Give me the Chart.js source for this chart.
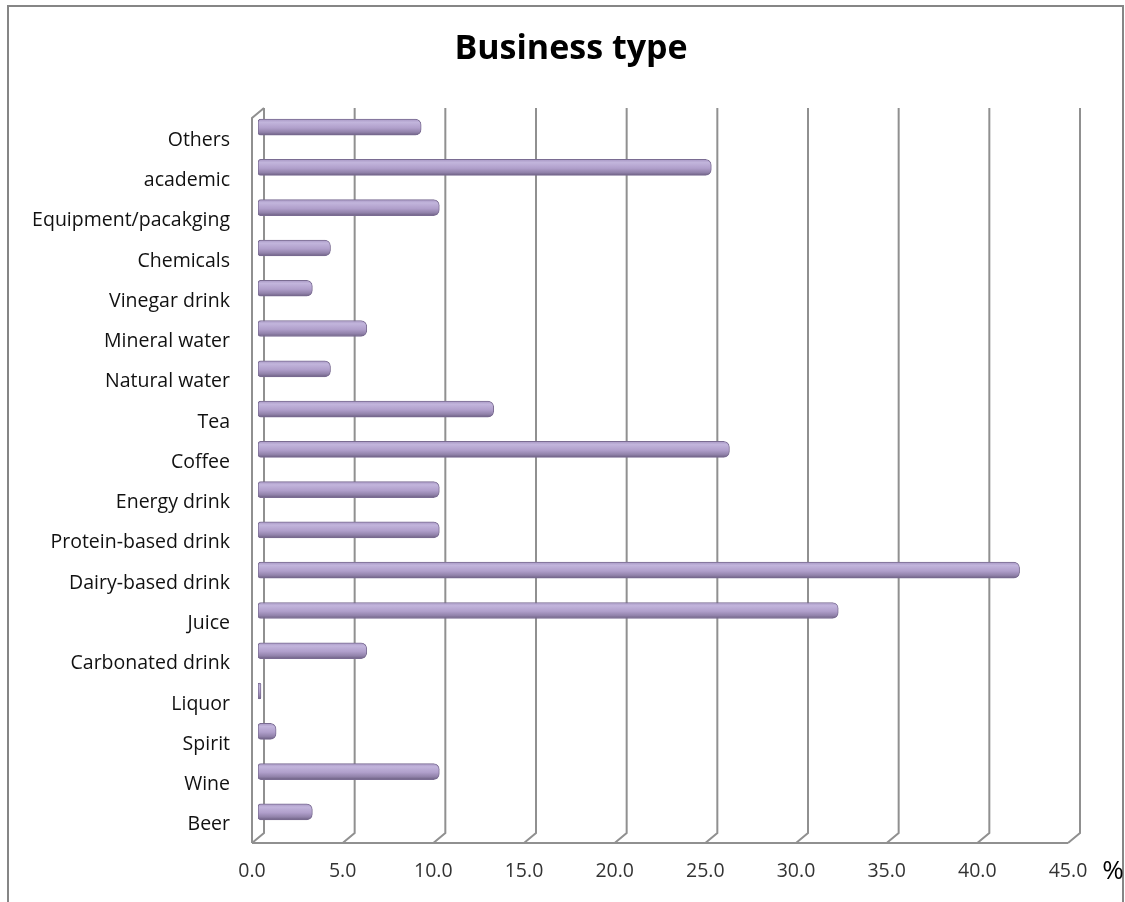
<!DOCTYPE html>
<html><head><meta charset="utf-8">
<script src="https://cdn.jsdelivr.net/npm/chart.js@4/dist/chart.umd.min.js"></script>
<style>html,body{margin:0;padding:0;background:#fff}#wrap{width:1125px;height:902px;position:relative}canvas{display:block}</style>
</head><body><div id="wrap"><canvas id="c" width="1125" height="902"></canvas></div>
<script>
const titleText = 'Business type';
const categories = ['Others','academic','Equipment/pacakging','Chemicals','Vinegar drink','Mineral water','Natural water','Tea','Coffee','Energy drink','Protein-based drink','Dairy-based drink','Juice','Carbonated drink','Liquor','Spirit','Wine','Beer'];
const values = [9,25,10,4,3,6,4,13,26,10,10,42,32,6,0,1,10,3];
const xTicks = [0,5,10,15,20,25,30,35,40,45];
const unitLabel = '%';

const DEPTH_X = 6, DEPTH_Y = 5;
const GRID = '#909090';

const wallPlugin = {
  id: 'wall',
  beforeDatasetsDraw(chart) {
    const {ctx, chartArea, scales} = chart;
    const xs = scales.x;
    const top = chartArea.top + 1, bot = chartArea.bottom + 1;
    ctx.save();
    ctx.strokeStyle = GRID; ctx.lineWidth = 2;
    xTicks.forEach(v => {
      const xm = xs.getPixelForValue(v);
      const xb = xm + DEPTH_X, xf = xm - DEPTH_X;
      ctx.beginPath(); ctx.moveTo(xb, top); ctx.lineTo(xb, bot); ctx.lineTo(xf, bot + 2*DEPTH_Y); ctx.stroke();
    });
    const x0 = xs.getPixelForValue(xTicks[0]), xN = xs.getPixelForValue(xTicks[xTicks.length-1]);
    ctx.beginPath(); ctx.moveTo(x0 - DEPTH_X, bot + 2*DEPTH_Y); ctx.lineTo(xN - DEPTH_X, bot + 2*DEPTH_Y); ctx.stroke();
    ctx.beginPath(); ctx.moveTo(x0 + DEPTH_X, top); ctx.lineTo(x0 - DEPTH_X, top + 2*DEPTH_Y); ctx.lineTo(x0 - DEPTH_X, bot + 2*DEPTH_Y); ctx.stroke();
    ctx.restore();
  },
  afterDraw(chart) {
    const {ctx, scales} = chart;
    const xs = scales.x;
    ctx.save();
    ctx.strokeStyle = '#868686'; ctx.lineWidth = 2;
    ctx.strokeRect(8, 6, 1115, 900);
    ctx.fillStyle = '#000';
    ctx.textAlign = 'center'; ctx.textBaseline = 'middle';
    ctx.font = 'bold 34px "Open Sans"';
    ctx.fillText(titleText, 571, 49);
    ctx.font = '26px "Open Sans"';
    ctx.fillText(unitLabel, xs.getPixelForValue(xTicks[xTicks.length-1]) + 39, 872);
    ctx.restore();
  }
};

function barFill(c) {
  const chart = c.chart;
  const ys = chart.scales && chart.scales.y;
  if (!ys || c.type !== 'data') return '#b0a0ca';
  const y = ys.getPixelForValue(c.dataIndex);
  if (!isFinite(y)) return '#b0a0ca';
  const g = chart.ctx.createLinearGradient(0, y - 8, 0, y + 8);
  g.addColorStop(0, '#a898c4');
  g.addColorStop(0.2, '#c2b5dc');
  g.addColorStop(0.55, '#b09fcb');
  g.addColorStop(0.82, '#9182aa');
  g.addColorStop(1, '#6c5f82');
  return g;
}

new Chart(document.getElementById('c'), {
  type: 'bar',
  data: { labels: categories, datasets: [{ data: values, backgroundColor: barFill, borderColor: '#7a6c92', borderWidth: 1, borderSkipped: false,
    borderRadius: {topLeft: 3, bottomLeft: 3, topRight: 6, bottomRight: 6}, barThickness: 16, minBarLength: 3 }] },
  options: {
    indexAxis: 'y', responsive: false, animation: false, devicePixelRatio: 1,
    layout: { padding: { left: 0, right: 51, top: 107, bottom: 0 } },
    plugins: { legend: { display: false }, tooltip: { enabled: false }, title: { display: false } },
    scales: {
      x: { type: 'linear', min: 0, max: 45, position: 'bottom',
        afterBuildTicks(s) { s.ticks = xTicks.map(v => ({ value: v })); },
        afterFit(s) { s.height = 70; },
        grid: { display: false, drawTicks: false }, border: { display: false },
        ticks: { color: '#333', font: { family: 'Open Sans', size: 19.5 }, padding: 28, labelOffset: -DEPTH_X, callback: v => Number(v).toFixed(1), maxRotation: 0, autoSkip: false } },
      y: { type: 'category', position: 'left', offset: true,
        afterFit(s) { s.width = 258; },
        grid: { display: false, drawTicks: false }, border: { display: false },
        ticks: { color: '#111', font: { family: 'Open Sans', size: 19.5 }, padding: 28, labelOffset: 13, autoSkip: false } }
    }
  },
  plugins: [wallPlugin]
});
</script></body></html>
